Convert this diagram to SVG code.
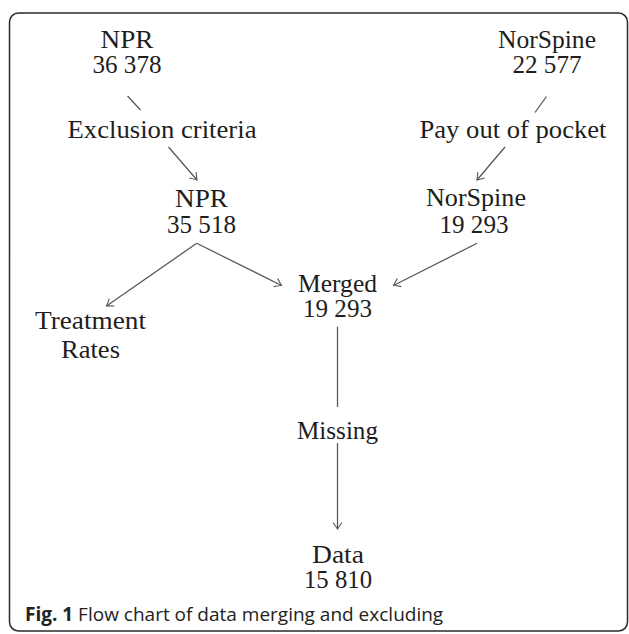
<svg xmlns="http://www.w3.org/2000/svg" width="629" height="634" viewBox="0 0 629 634">
<style>
  .t { font-family: "Liberation Serif", "Times New Roman", serif; font-size: 24.5px; fill: #1e1e1e; text-anchor: middle; }
  .e { fill: none; stroke: #555; stroke-width: 1.25; }
  .cap { font-family: "Open Sans", "Noto Sans", sans-serif; font-size: 19px; fill: #222; }
</style>
<defs>
  <marker id="ah" viewBox="-8 -6 10 12" markerWidth="10" markerHeight="12" refX="0" refY="0" orient="auto" markerUnits="userSpaceOnUse">
    <path d="M-6.5,-4.5 Q-2,-1.2 0,0 Q-2,1.2 -6.5,4.5" fill="none" stroke="#555" stroke-width="1.1"/>
  </marker>
</defs>
<rect x="9.5" y="13" width="618" height="618" rx="9" ry="9" fill="#fff" stroke="#2a2a2a" stroke-width="1.5"/>

<g id="connectors">
  <line class="e" x1="127.5" y1="96" x2="140.5" y2="110"/>
  <line class="e" x1="168.5" y1="147" x2="197" y2="180" marker-end="url(#ah)"/>
  <line class="e" x1="546.5" y1="96.5" x2="535" y2="112.5"/>
  <line class="e" x1="505" y1="147" x2="477" y2="180" marker-end="url(#ah)"/>
  <line class="e" x1="196.7" y1="243.3" x2="106.5" y2="306" marker-end="url(#ah)"/>
  <line class="e" x1="196.7" y1="243.3" x2="281.5" y2="285.5" marker-end="url(#ah)"/>
  <line class="e" x1="477" y1="243.3" x2="393.5" y2="285.5" marker-end="url(#ah)"/>
  <line class="e" x1="337.5" y1="326.7" x2="337.5" y2="407"/>
  <line class="e" x1="337.5" y1="443" x2="337.5" y2="529" marker-end="url(#ah)"/>
</g>

<g id="npr1">
  <text class="t" x="127" y="48" textLength="53" lengthAdjust="spacingAndGlyphs">NPR</text>
  <text class="t" x="127" y="72.5" textLength="69" lengthAdjust="spacingAndGlyphs">36 378</text>
</g>
<g id="norspine1">
  <text class="t" x="547" y="48" textLength="98" lengthAdjust="spacingAndGlyphs">NorSpine</text>
  <text class="t" x="547" y="72.5" textLength="69" lengthAdjust="spacingAndGlyphs">22 577</text>
</g>
<g id="exclusion">
  <text class="t" x="162" y="137.5" textLength="189" lengthAdjust="spacingAndGlyphs">Exclusion criteria</text>
</g>
<g id="pay">
  <text class="t" x="513" y="137.5" textLength="187" lengthAdjust="spacingAndGlyphs">Pay out of pocket</text>
</g>
<g id="npr2">
  <text class="t" x="201.5" y="207" textLength="53" lengthAdjust="spacingAndGlyphs">NPR</text>
  <text class="t" x="201.5" y="233" textLength="69" lengthAdjust="spacingAndGlyphs">35 518</text>
</g>
<g id="norspine2">
  <text class="t" x="476" y="206" textLength="100" lengthAdjust="spacingAndGlyphs">NorSpine</text>
  <text class="t" x="474" y="233" textLength="69" lengthAdjust="spacingAndGlyphs">19 293</text>
</g>
<g id="treatment">
  <text class="t" x="90.5" y="329" textLength="111" lengthAdjust="spacingAndGlyphs">Treatment</text>
  <text class="t" x="90.5" y="357.5" textLength="59" lengthAdjust="spacingAndGlyphs">Rates</text>
</g>
<g id="merged">
  <text class="t" x="337.5" y="291.5" textLength="79" lengthAdjust="spacingAndGlyphs">Merged</text>
  <text class="t" x="337.5" y="317" textLength="69" lengthAdjust="spacingAndGlyphs">19 293</text>
</g>
<g id="missing">
  <text class="t" x="337.5" y="438.5" textLength="81" lengthAdjust="spacingAndGlyphs">Missing</text>
</g>
<g id="data">
  <text class="t" x="338" y="563" textLength="52" lengthAdjust="spacingAndGlyphs">Data</text>
  <text class="t" x="338" y="587.5" textLength="68" lengthAdjust="spacingAndGlyphs">15 810</text>
</g>

<text class="cap" x="25" y="621"><tspan font-weight="bold">Fig. 1</tspan> Flow chart of data merging and excluding</text>
</svg>
